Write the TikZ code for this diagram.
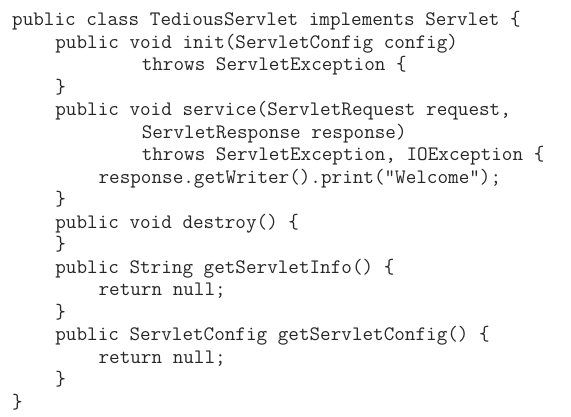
\documentclass[tikz,border=0pt]{standalone}
\usepackage{fontspec}
\tikzset{code/.style={anchor=base west,inner sep=0pt,text=black!85,font=\ttfamily\fontsize{20.57}{22}\selectfont}}
\begin{document}
\begin{tikzpicture}[x=1pt,y=1pt]
\useasboundingbox (0,0) rectangle (571,416);

\node[code] (cls) at (12,390) {public class TediousServlet implements Servlet \{};
\node[code] (init) at (55.2,367.5) {public void init(ServletConfig config)};
\node[code] (initthrows) at (141.6,345.1) {throws ServletException \{};
\node[code] (initend) at (55.2,322.6) {\}};

\node[code] (service) at (55.2,300.1) {public void service(ServletRequest request,};
\node[code] (serviceresp) at (141.6,277.6) {ServletResponse response)};
\node[code] (servicethrows) at (141.6,255.2) {throws ServletException, IOException \{};
\node[code] (print) at (98.4,232.7) {response.getWriter().print("Welcome");};
\node[code] (serviceend) at (55.2,210.2) {\}};

\node[code] (destroy) at (55.2,187.7) {public void destroy() \{};
\node[code] (destroyend) at (55.2,165.3) {\}};

\node[code] (info) at (55.2,142.8) {public String getServletInfo() \{};
\node[code] (inforet) at (98.4,120.3) {return null;};
\node[code] (infoend) at (55.2,97.8) {\}};

\node[code] (config) at (55.2,75.4) {public ServletConfig getServletConfig() \{};
\node[code] (configret) at (98.4,52.9) {return null;};
\node[code] (configend) at (55.2,30.4) {\}};

\node[code] (clsend) at (12,7.9) {\}};

\end{tikzpicture}
\end{document}
